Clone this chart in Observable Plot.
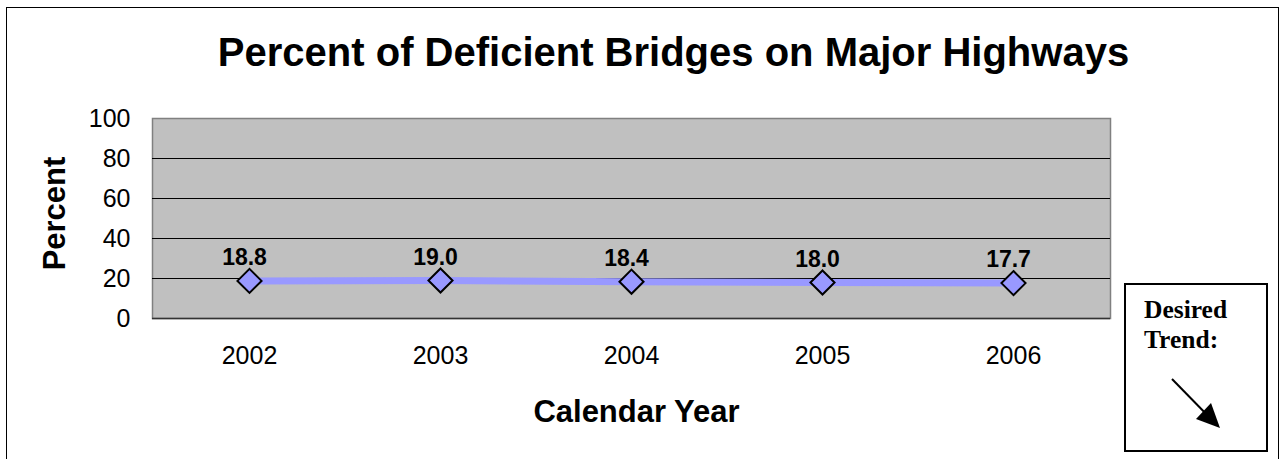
<!DOCTYPE html>
<html>
<head>
<meta charset="utf-8">
<script src="https://cdn.jsdelivr.net/npm/d3@7"></script>
<script src="https://cdn.jsdelivr.net/npm/@observablehq/plot@0.6"></script>
<style>
  html, body { margin: 0; padding: 0; background: #fff; }
  #wrap { position: relative; width: 1283px; height: 459px; overflow: hidden; font-family: "Liberation Sans", Arial, sans-serif; }
  #outer { position: absolute; left: 6px; top: 7px; width: 1273px; height: 470px; border: 1px solid #000; box-sizing: border-box; }
  #chart { position: absolute; left: 0; top: 0; }
  #trend { position: absolute; left: 1124px; top: 283px; width: 144px; height: 169px; border: 2px solid #000; box-sizing: border-box; background: #fff; }
  #trend .t { position: absolute; left: 18px; top: 10px; font-family: "Liberation Serif", "Times New Roman", serif; font-weight: bold; font-size: 25.5px; line-height: 30px; color: #000; }
  #trend svg { position: absolute; left: 0; top: 0; }
</style>
</head>
<body>
<div id="wrap">
  <div id="outer"></div>
  <div id="chart"></div>
  <div id="trend">
    <div class="t">Desired<br>Trend:</div>
    <svg width="144" height="169">
      <line x1="46" y1="94" x2="88" y2="137" stroke="#000" stroke-width="2"/>
      <path d="M94,143 L70,134 L85,118 Z" fill="#000"/>
    </svg>
  </div>
</div>
<script>
const titleText = "Percent of Deficient Bridges on Major Highways";
const xLabel = "Calendar Year";
const yLabel = "Percent";
const years = ["2002", "2003", "2004", "2005", "2006"];
const values = [18.8, 19.0, 18.4, 18.0, 17.7];
const yTicks = [0, 20, 40, 60, 80, 100];
const gridValues = [20, 40, 60, 80];

const data = years.map((year, i) => ({year, value: values[i]}));

const diamond = {
  draw(context, size) {
    const r = Math.sqrt(size) * 0.68;
    context.moveTo(0, -r);
    context.lineTo(r, 0);
    context.lineTo(0, r);
    context.lineTo(-r, 0);
    context.closePath();
  }
};

const chart = Plot.plot({
  width: 1283,
  height: 459,
  marginLeft: 152,
  marginRight: 173,
  marginTop: 118,
  marginBottom: 141,
  style: {fontFamily: "'Liberation Sans', Arial, sans-serif", color: "#000", background: "transparent", overflow: "visible"},
  x: {type: "point", domain: years, padding: 0.5, align: 0.5},
  y: {domain: [0, 100]},
  marks: [
    Plot.frame({fill: "#c0c0c0", stroke: "#808080", strokeWidth: 1.5}),
    Plot.ruleY(gridValues, {stroke: "#000", strokeWidth: 1}),
    Plot.ruleY([0], {stroke: "#333", strokeWidth: 1.5}),
    Plot.axisY(yTicks, {tickSize: 0, tickPadding: 22, fontSize: 25, label: null, tickFormat: d => String(d)}),
    Plot.axisX({tickSize: 0, tickPadding: 28, fontSize: 25, label: null}),
    Plot.line(data, {x: "year", y: "value", stroke: "#9999ff", strokeWidth: 7}),
    Plot.dot(data, {x: "year", y: "value", symbol: diamond, r: 10, fill: "#9999ff", stroke: "#000", strokeWidth: 2}),
    Plot.text(data, {x: "year", y: "value", text: d => d.value.toFixed(1), dy: -23, dx: -5, fontSize: 23, fontWeight: "bold", fill: "#000"}),
    Plot.text([titleText], {frameAnchor: "top", dx: 42, dy: -53, lineAnchor: "bottom", fontSize: 40, fontWeight: "bold", fill: "#000"}),
    Plot.text([xLabel], {frameAnchor: "bottom", dx: 5, dy: 103, fontSize: 31, fontWeight: "bold", fill: "#000"}),
    Plot.text([yLabel], {frameAnchor: "left", dx: -97, dy: -5, rotate: -90, textAnchor: "middle", fontSize: 31, fontWeight: "bold", fill: "#000"})
  ]
});
document.getElementById("chart").appendChild(chart);
</script>
</body>
</html>
